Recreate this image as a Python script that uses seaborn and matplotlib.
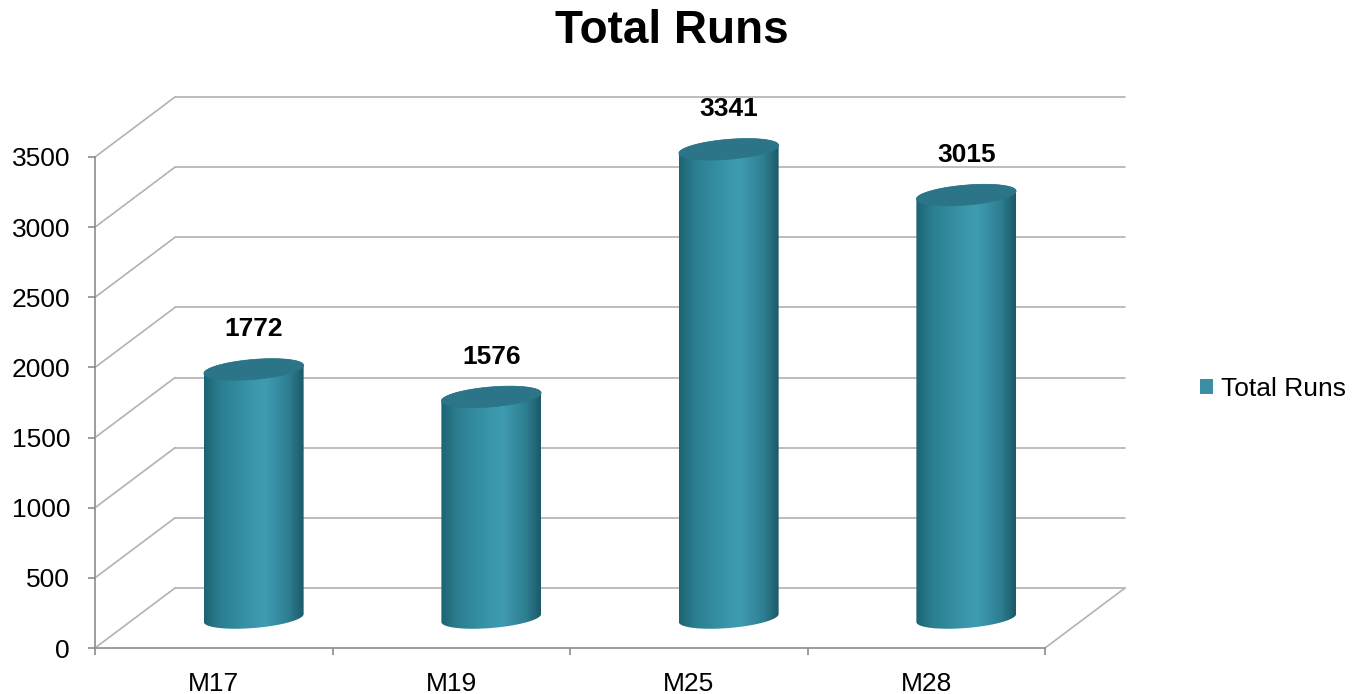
import numpy as np
import matplotlib
matplotlib.use('Agg')
import matplotlib.pyplot as plt
import matplotlib.transforms as mtrans
from matplotlib.patches import Polygon, Patch
from matplotlib.colors import LinearSegmentedColormap
import seaborn as sns
import pandas as pd

# ---- data ----
categories = ['M17', 'M19', 'M25', 'M28']
total_runs = [1772, 1576, 3341, 3015]
y_ticks = [0, 500, 1000, 1500, 2000, 2500, 3000, 3500]
series_name = 'Total Runs'
chart_title = 'Total Runs'

# ---- style ----
W, H, DPI = 1366, 694, 100
GRID = '#b2b2b2'
AXC = '#8c8c8c'
TEAL = '#3a8fa3'
CAP = '#2c7588'
body_cmap = LinearSegmentedColormap.from_list('cyl', [
    (0.0, '#1d6372'), (0.15, '#2a7d8f'), (0.5, '#3b97ac'), (0.62, '#3e9bb0'),
    (0.85, '#2e7e91'), (1.0, '#1b5a68')])

sns.set_theme(style='white')
plt.rcParams['font.family'] = ['Liberation Sans', 'DejaVu Sans']
plt.rcParams['text.color'] = 'black'
plt.rcParams['axes.labelcolor'] = 'black'
plt.rcParams['xtick.color'] = 'black'
plt.rcParams['ytick.color'] = 'black'

fig = plt.figure(figsize=(W / DPI, H / DPI), dpi=DPI)
ax = fig.add_axes([95 / W, 46 / H, 950 / W, 491 / H])
df = pd.DataFrame({'cat': categories, 'val': total_runs})
sns.barplot(data=df, x='cat', y='val', ax=ax, width=0.42, color=TEAL, saturation=1)
ax.set_xlim(-0.5, len(categories) - 0.5)
ax.set_ylim(y_ticks[0], y_ticks[-1])
ax.set_xlabel('')
ax.set_ylabel('')

# depth offsets (3-D look)
back = ax.transData + mtrans.ScaledTranslation(0.80, 0.60, fig.dpi_scale_trans)
mid = ax.transData + mtrans.ScaledTranslation(0.40, 0.30, fig.dpi_scale_trans)
inv = ax.transData.inverted()

x_lo, x_hi = ax.get_xlim()
# back wall + side wall grid lines
for v in y_ticks:
    ax.plot([x_lo, x_hi], [v, v], transform=back, color=GRID, lw=1.2,
            clip_on=False, zorder=0.5)
    bx, by = inv.transform(back.transform((x_lo, v)))
    ax.plot([x_lo, bx], [v, by], color=GRID, lw=1.2, clip_on=False, zorder=0.5)
# floor right edge
bx, by = inv.transform(back.transform((x_hi, 0)))
ax.plot([x_hi, bx], [0, by], color=GRID, lw=1.2, clip_on=False, zorder=0.5)

# scale factors
p0 = ax.transData.transform((0, 0))
sx = ax.transData.transform((1, 0))[0] - p0[0]
sy = ax.transData.transform((0, 1))[1] - p0[1]
b_d = 10.0 / sy
shear = 0.08 * sx / sy

grad = np.linspace(0, 1, 256).reshape(1, -1)
for patch, val in zip(ax.patches, total_runs):
    x0, w, h = patch.get_x(), patch.get_width(), patch.get_height()
    patch.set_visible(False)
    xc, a = x0 + w / 2, w / 2
    t1 = np.linspace(np.pi, 2 * np.pi, 80)
    t2 = np.linspace(0, np.pi, 80)
    bot = np.column_stack([xc + a * np.cos(t1), b_d * np.sin(t1) + shear * a * np.cos(t1)])
    top = np.column_stack([xc + a * np.cos(t2), h + b_d * np.sin(t2) + shear * a * np.cos(t2)])
    body = np.vstack([bot, top])
    clip = Polygon(body, closed=True, transform=mid, facecolor='none', edgecolor='none')
    ax.add_patch(clip)
    pad = b_d + abs(shear * a)
    im = ax.imshow(grad, extent=[xc - a, xc + a, -pad, h + pad], aspect='auto',
                   cmap=body_cmap, transform=mid, zorder=2, interpolation='bilinear')
    im.set_clip_box(fig.bbox)
    im.set_clip_path(clip)
    tt = np.linspace(0, 2 * np.pi, 160)
    cap = np.column_stack([xc + a * np.cos(tt), h + b_d * np.sin(tt) + shear * a * np.cos(tt)])
    ax.add_patch(Polygon(cap, closed=True, transform=mid, facecolor=CAP,
                         edgecolor=CAP, lw=0.5, zorder=3, clip_on=False))
    lab_tr = mid + mtrans.ScaledTranslation(0, 0.40, fig.dpi_scale_trans)
    ax.text(xc, h, f'{val}', transform=lab_tr, ha='center', va='center',
            fontsize=19, fontweight='bold', color='black', clip_on=False, zorder=4)

ax.set_xlim(x_lo, x_hi)
ax.set_ylim(y_ticks[0], y_ticks[-1])

# axes / ticks
for s in ['top', 'right']:
    ax.spines[s].set_visible(False)
for s in ['left', 'bottom']:
    ax.spines[s].set_color(AXC)
    ax.spines[s].set_linewidth(1.2)
ax.set_yticks(y_ticks)
ax.set_yticklabels([str(v) for v in y_ticks])
ax.tick_params(axis='y', which='major', left=True, length=5, width=1.2, color=AXC,
               pad=13, labelsize=19, labelcolor='black')
ax.set_xticks(np.arange(len(categories) + 1) - 0.5)
ax.set_xticklabels([])
ax.set_xticks(np.arange(len(categories)), minor=True)
ax.set_xticklabels(categories, minor=True)
ax.tick_params(axis='x', which='major', bottom=True, length=5, width=1.2, color=AXC)
ax.tick_params(axis='x', which='minor', bottom=True, length=0, pad=17,
               labelsize=19, labelcolor='black')
ax.grid(False)

fig.text(672 / W, 1 - 31 / H, chart_title, ha='center', va='center',
         fontsize=33, fontweight='bold', color='black')

fig.legend(handles=[Patch(facecolor=TEAL, edgecolor='none', label=series_name)],
           loc='center left', bbox_to_anchor=(1200 / W, 1 - 389 / H),
           frameon=False, fontsize=19, handlelength=0.5, handleheight=0.5,
           handletextpad=0.3, borderpad=0, borderaxespad=0, labelcolor='black')

fig.savefig('out.png', dpi=DPI)
